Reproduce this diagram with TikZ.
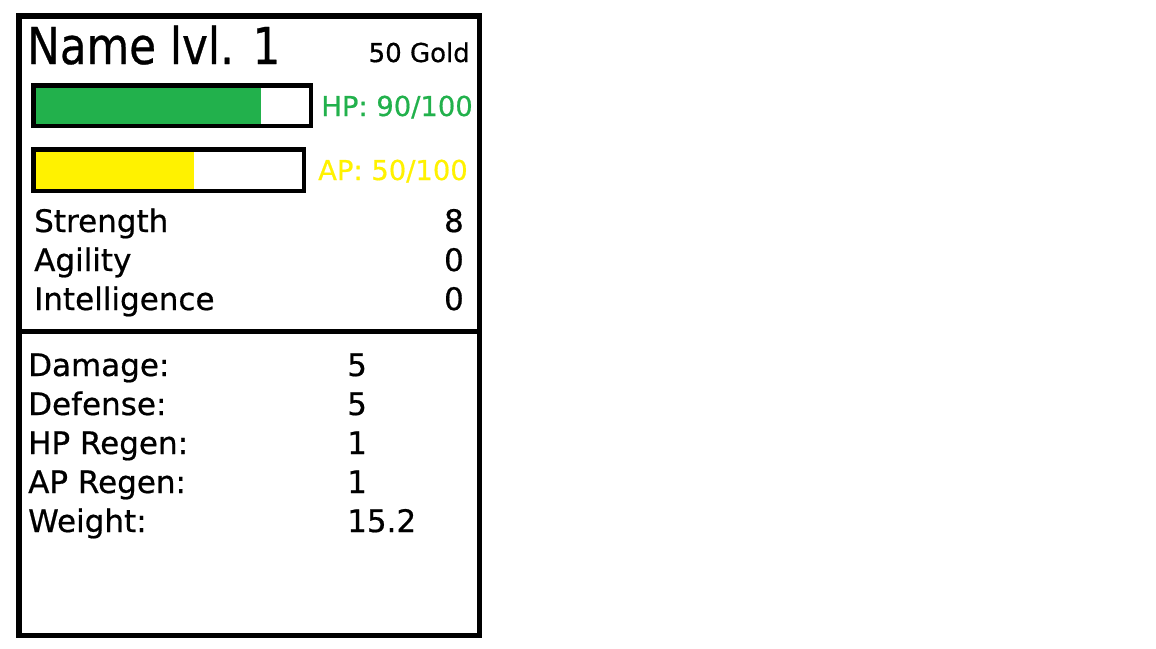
\documentclass[tikz,border=0pt]{standalone}
\usepackage{fontspec}
\setmainfont{DejaVu Sans}[UprightFeatures={FakeBold=0.6}]
\usepackage{graphicx}
\definecolor{hpgreen}{RGB}{34,177,76}
\definecolor{apyellow}{RGB}{255,242,0}
\newcommand{\fs}[1]{\fontsize{#1pt}{#1pt}\selectfont}
\begin{document}
\begin{tikzpicture}[x=1pt,y=-1pt,
  lbl/.style={inner sep=0pt, anchor=base west},
  val/.style={inner sep=0pt, anchor=base east},
  frame/.style={line width=5.5pt},
  barframe/.style={line width=4.5pt},
  statfont/.style={font=\fs{31}},
  derfont/.style={font=\fs{31}}]
\useasboundingbox (0,0) rectangle (1156,648);
\fill[white] (0,0) rectangle (1156,648);
% panel
\draw[frame] (18.75,15.75) rectangle (479.25,635.25);
\coordinate (divL) at (18.75,331.5);
\coordinate (divR) at (479.25,331.5);
\draw[frame] (divL) -- (divR);
% bars
\fill[hpgreen] (35,87) rectangle (261,124);
\draw[barframe] (33.25,85.25) rectangle (310.75,125.75);
\fill[apyellow] (35,151) rectangle (194,189);
\draw[barframe] (33.25,149.25) rectangle (303.75,190.75);
% header
\node[lbl] (title) at (27,64) {\scalebox{0.86}[1]{\fs{50.8}Name lvl. 1}};
\node[val, font=\fs{26}] (gold) at (470,62) {50 Gold};
\node[val, font=\fs{27.4}, text=hpgreen] (hp) at (473,116) {HP: 90/100};
\node[val, font=\fs{27.4}, text=apyellow] (ap) at (468,180) {AP: 50/100};
% attributes
\node[lbl, statfont] (str) at (34,232) {Strength};
\node[lbl, statfont] (agi) at (34,271) {Agility};
\node[lbl, statfont] (int) at (34,310) {Intelligence};
\node[val, statfont] (strv) at (464,232) {8};
\node[val, statfont] (agiv) at (464,271) {0};
\node[val, statfont] (intv) at (464,310) {0};
% derived stats
\node[lbl, derfont] (dmg) at (28,376) {Damage:};
\node[lbl, derfont] (def) at (28,415) {Defense:};
\node[lbl, derfont] (hpr) at (28,454) {HP Regen:};
\node[lbl, derfont] (apr) at (28,493) {AP Regen:};
\node[lbl, derfont] (wgt) at (28,532) {Weight:};
\node[lbl, derfont] (dmgv) at (347,376) {5};
\node[lbl, derfont] (defv) at (347,415) {5};
\node[lbl, derfont] (hprv) at (347,454) {1};
\node[lbl, derfont] (aprv) at (347,493) {1};
\node[lbl, derfont] (wgtv) at (347,532) {15.2};
\end{tikzpicture}
\end{document}
